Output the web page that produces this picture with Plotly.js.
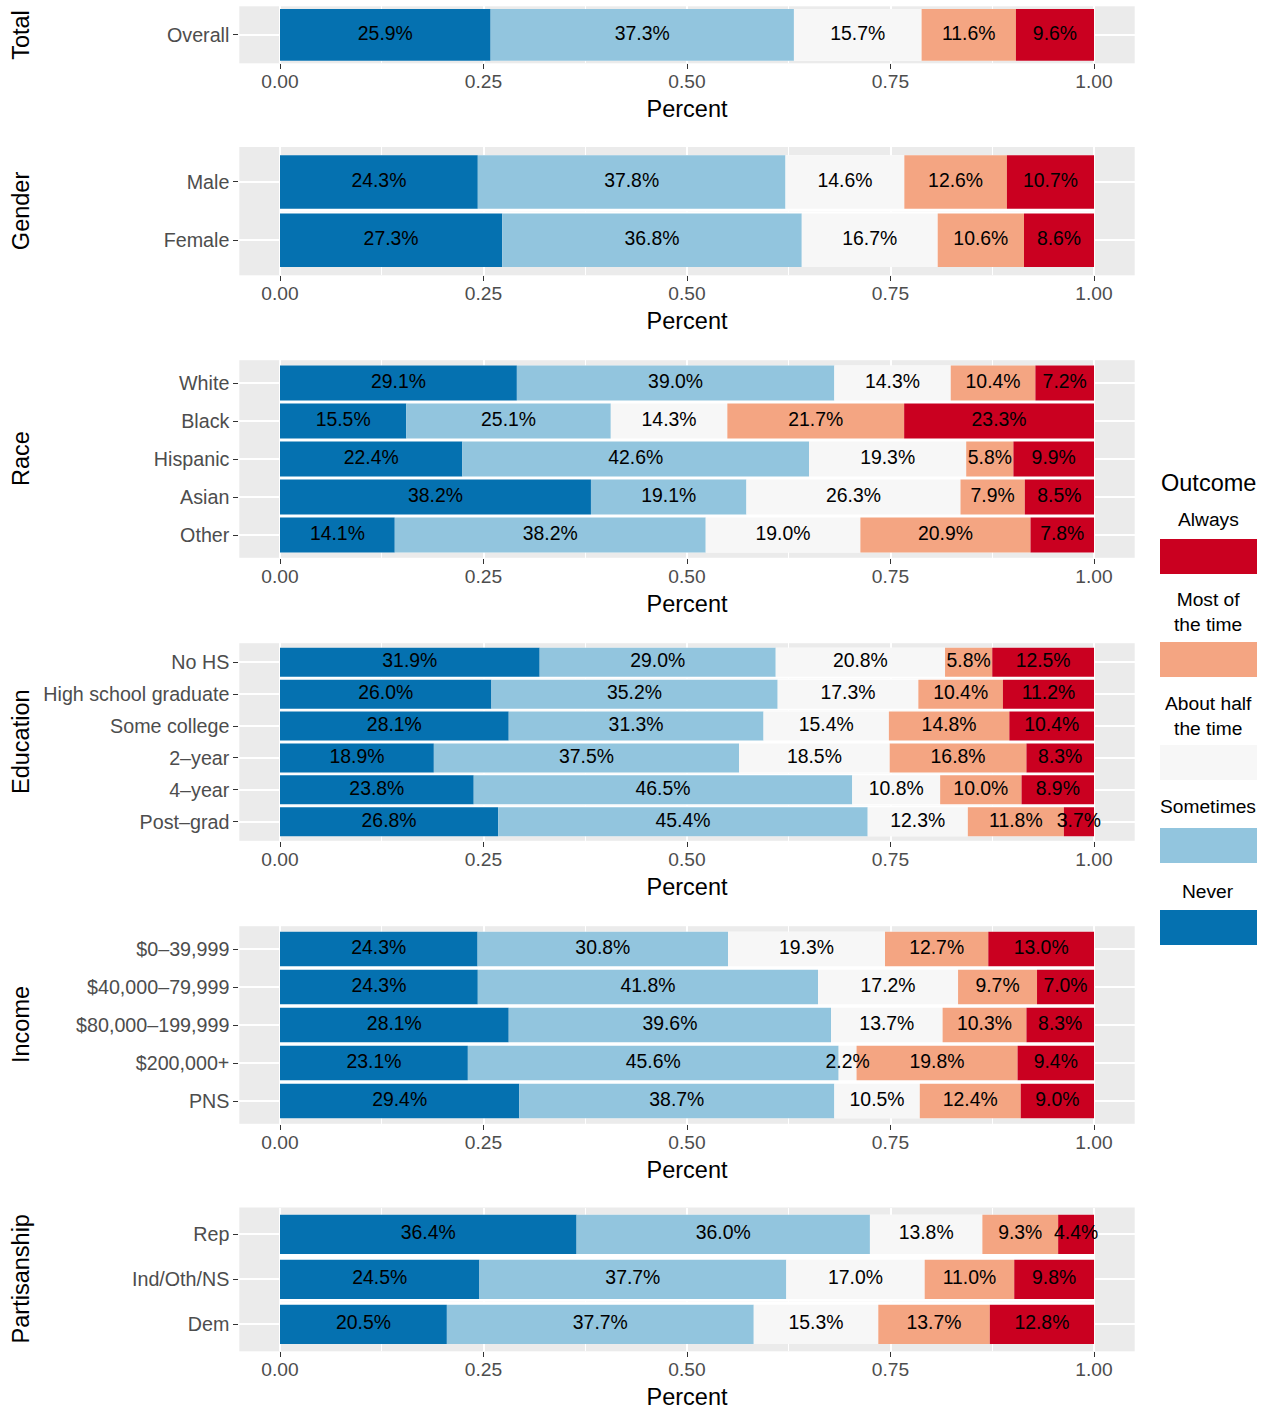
<!DOCTYPE html>
<html>
<head>
<meta charset="utf-8">
<script src="https://cdn.plot.ly/plotly-3.0.1.min.js"></script>
<style>html,body{margin:0;padding:0;background:#fff;}#chart{width:1270px;height:1412px;}</style>
</head>
<body>
<div id="chart"></div>
<script>
// ---------------- DATA ----------------
const outcomes = ["Never", "Sometimes", "About half the time", "Most of the time", "Always"];
const facetNames = ["Total", "Gender", "Race", "Education", "Income", "Partisanship"];

const totalCats = ["Overall"];
const totalValues = [[25.9, 37.3, 15.7, 11.6, 9.6]];

const genderCats = ["Male", "Female"];
const genderValues = [
  [24.3, 37.8, 14.6, 12.6, 10.7],
  [27.3, 36.8, 16.7, 10.6, 8.6]
];

const raceCats = ["White", "Black", "Hispanic", "Asian", "Other"];
const raceValues = [
  [29.1, 39.0, 14.3, 10.4, 7.2],
  [15.5, 25.1, 14.3, 21.7, 23.3],
  [22.4, 42.6, 19.3, 5.8, 9.9],
  [38.2, 19.1, 26.3, 7.9, 8.5],
  [14.1, 38.2, 19.0, 20.9, 7.8]
];

const educationCats = ["No HS", "High school graduate", "Some college", "2\u2013year", "4\u2013year", "Post\u2013grad"];
const educationValues = [
  [31.9, 29.0, 20.8, 5.8, 12.5],
  [26.0, 35.2, 17.3, 10.4, 11.2],
  [28.1, 31.3, 15.4, 14.8, 10.4],
  [18.9, 37.5, 18.5, 16.8, 8.3],
  [23.8, 46.5, 10.8, 10.0, 8.9],
  [26.8, 45.4, 12.3, 11.8, 3.7]
];

const incomeCats = ["$0\u201339,999", "$40,000\u201379,999", "$80,000\u2013199,999", "$200,000+", "PNS"];
const incomeValues = [
  [24.3, 30.8, 19.3, 12.7, 13.0],
  [24.3, 41.8, 17.2, 9.7, 7.0],
  [28.1, 39.6, 13.7, 10.3, 8.3],
  [23.1, 45.6, 2.2, 19.8, 9.4],
  [29.4, 38.7, 10.5, 12.4, 9.0]
];

const partisanCats = ["Rep", "Ind/Oth/NS", "Dem"];
const partisanValues = [
  [36.4, 36.0, 13.8, 9.3, 4.4],
  [24.5, 37.7, 17.0, 11.0, 9.8],
  [20.5, 37.7, 15.3, 13.7, 12.8]
];

const xTickVals = [0, 0.25, 0.5, 0.75, 1.0];
const legendTitle = "Outcome";

// ---------------- STYLE / GEOMETRY ----------------
const outcomeColors = ["#0571B0", "#92C5DE", "#F7F7F7", "#F4A582", "#CA0020"];
const W = 1270, H = 1412;
const FONT = "Liberation Sans, Arial, Helvetica, sans-serif";
const PX0 = 239.3, PX1 = 1134.7;
const panelGeom = [
  {top: 6.3,    bottom: 63.3,   bw: 1.09},
  {top: 147.0,  bottom: 275.3,  bw: 0.917},
  {top: 360.2,  bottom: 557.8,  bw: 0.92},
  {top: 643.2,  bottom: 840.8,  bw: 0.91},
  {top: 926.2,  bottom: 1123.8, bw: 0.912},
  {top: 1207.5, bottom: 1351.3, bw: 0.873}
];
const facets = [
  {cats: totalCats, vals: totalValues},
  {cats: genderCats, vals: genderValues},
  {cats: raceCats, vals: raceValues},
  {cats: educationCats, vals: educationValues},
  {cats: incomeCats, vals: incomeValues},
  {cats: partisanCats, vals: partisanValues}
];

const traces = [];
const layout = {
  width: W, height: H,
  margin: {l: 0, r: 0, t: 0, b: 0},
  paper_bgcolor: "#FFFFFF",
  plot_bgcolor: "#EBEBEB",
  barmode: "overlay",
  showlegend: false,
  font: {family: FONT, color: "#000000"},
  annotations: [],
  shapes: []
};

facets.forEach((f, i) => {
  const k = i + 1;
  const xa = k === 1 ? "x" : "x" + k;
  const ya = k === 1 ? "y" : "y" + k;
  const g = panelGeom[i];
  const n = f.cats.length;
  const sums = f.vals.map(r => r.reduce((a, b) => a + b, 0));
  const norm = f.vals.map((r, j) => r.map(v => v / sums[j]));

  // white underlay filling the gaps between neighbouring bars
  const uw = [], uo = [];
  f.cats.forEach((c, j) => {
    let lo = (j === 0) ? -g.bw / 2 : -0.5;
    let hi = (j === n - 1) ? g.bw / 2 : 0.5;
    uo.push(lo); uw.push(hi - lo);
  });
  traces.push({
    type: "bar", orientation: "h", xaxis: xa, yaxis: ya,
    y: f.cats, x: norm.map(r => r.reduce((a, b) => a + b, 0)), base: f.cats.map(() => 0),
    width: uw, offset: uo,
    marker: {color: "#FFFFFF", line: {width: 0}}, hoverinfo: "skip"
  });

  outcomes.forEach((o, m) => {
    const bases = norm.map(r => r.slice(0, m).reduce((a, b) => a + b, 0));
    traces.push({
      type: "bar", orientation: "h", name: o, xaxis: xa, yaxis: ya,
      y: f.cats, x: norm.map(r => r[m]), base: bases,
      width: g.bw,
      marker: {color: outcomeColors[m], line: {width: 0}},
      hovertemplate: "%{y}: " + o + " %{x:.1%}<extra></extra>"
    });
  });
  outcomes.forEach((o, m) => {
    const mids = norm.map(r => r.slice(0, m).reduce((a, b) => a + b, 0) + r[m] / 2);
    traces.push({
      type: "scatter", mode: "text", xaxis: xa, yaxis: ya,
      y: f.cats, x: mids,
      text: f.vals.map(r => r[m].toFixed(1) + "%"),
      textposition: "middle center",
      textfont: {family: FONT, size: 19.4, color: "#000000"},
      cliponaxis: false, hoverinfo: "skip"
    });
  });

  layout["xaxis" + (k === 1 ? "" : k)] = {
    domain: [PX0 / W, PX1 / W],
    anchor: ya,
    range: [-0.05, 1.05],
    tickmode: "array", tickvals: xTickVals,
    ticktext: xTickVals.map(v => v.toFixed(2)),
    showgrid: true, gridcolor: "#FFFFFF", gridwidth: 2.1,
    minor: {tickmode: "array", tickvals: [0.125, 0.375, 0.625, 0.875], showgrid: true, gridcolor: "#FFFFFF", gridwidth: 1, ticks: ""},
    zeroline: false, showline: false,
    ticks: "outside", ticklen: 5, tickwidth: 1.4, tickcolor: "#333333",
    ticklabelstandoff: -4,
    tickfont: {family: FONT, size: 19.2, color: "#4D4D4D"},
    title: {text: "Percent", font: {family: FONT, size: 23.5, color: "#000000"}, standoff: 9},
    fixedrange: true
  };
  layout["yaxis" + (k === 1 ? "" : k)] = {
    domain: [1 - g.bottom / H, 1 - g.top / H],
    anchor: xa,
    type: "category",
    categoryorder: "array", categoryarray: f.cats,
    range: [n - 1 + 0.6, -0.6],
    showgrid: true, gridcolor: "#FFFFFF", gridwidth: 2.1,
    zeroline: false, showline: false,
    ticks: "outside", ticklen: 5, tickwidth: 1.4, tickcolor: "#333333",
    tickfont: {family: FONT, size: 19.7, color: "#4D4D4D"},
    fixedrange: true
  };

  // facet label on the left
  layout.annotations.push({
    xref: "paper", yref: "paper",
    x: 21 / W, y: 1 - ((g.top + g.bottom) / 2) / H,
    xanchor: "center", yanchor: "middle",
    text: facetNames[i], textangle: -90, showarrow: false,
    font: {family: FONT, size: 23.5, color: "#000000"}
  });
});

// ---------------- LEGEND (drawn manually, ggplot style) ----------------
const legendOrder = [4, 3, 2, 1, 0];
const legendDisplay = {"Most of the time": "Most of<br>the time", "About half the time": "About half<br>the time"};
const keyTop = [539, 642, 745, 828, 910];
const keyH = 35;
const labelY = [519, 612, 715.5, 806.7, 891];
layout.annotations.push({
  xref: "paper", yref: "paper", x: 1208 / W, y: 1 - 482.5 / H,
  xanchor: "center", yanchor: "middle", showarrow: false,
  text: legendTitle, font: {family: FONT, size: 23.5, color: "#000000"}
});
legendOrder.forEach((m, q) => {
  const o = outcomes[m];
  layout.shapes.push({
    type: "rect", xref: "paper", yref: "paper",
    x0: 1160 / W, x1: 1257 / W,
    y0: 1 - (keyTop[q] + keyH) / H, y1: 1 - keyTop[q] / H,
    fillcolor: outcomeColors[m], line: {width: 0}
  });
  layout.annotations.push({
    xref: "paper", yref: "paper", x: 1208 / W, y: 1 - labelY[q] / H,
    xanchor: "center", yanchor: "middle", showarrow: false, align: "center",
    text: legendDisplay[o] || o, font: {family: FONT, size: 19.2, color: "#000000"}
  });
});

Plotly.newPlot("chart", traces, layout, {displayModeBar: false, staticPlot: false});
</script>
</body>
</html>
